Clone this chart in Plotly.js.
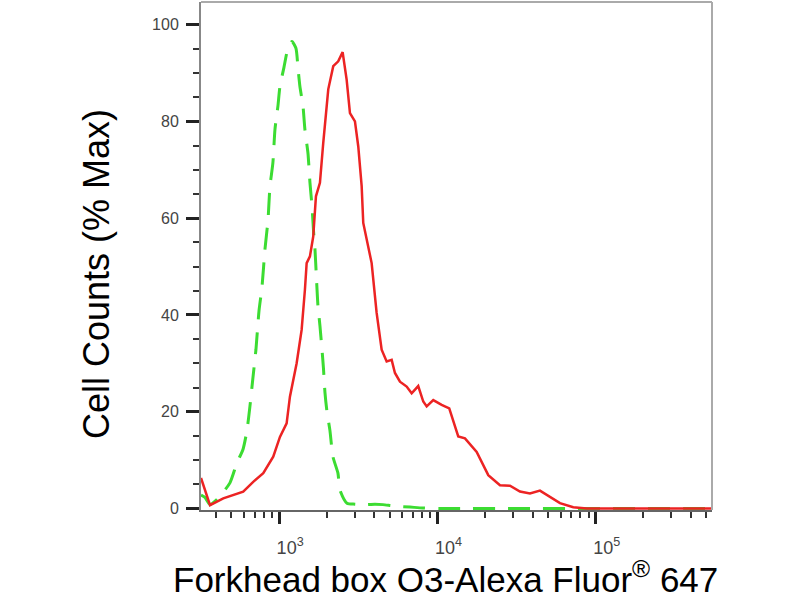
<!DOCTYPE html>
<html>
<head>
<meta charset="utf-8">
<script src="https://cdn.plot.ly/plotly-3.0.1.min.js"></script>
<style>
  html, body { margin: 0; padding: 0; background: #ffffff; }
  #chart { width: 800px; height: 600px; }
</style>
</head>
<body>
<div id="chart"></div>
<script>
// Red: Forkhead box O3 - Alexa Fluor 647 stained sample (fluorescence intensity, % of max)
const redX = [321, 366, 444, 593, 686, 794, 918, 1012, 1115, 1170, 1290, 1387, 1455, 1492, 1565, 1642, 1708, 1810, 1899, 2043, 2197, 2362, 2518, 2669, 2801, 3012, 3161, 3321, 3399, 3569, 3840, 4129, 4441, 4777, 5137, 5389, 5797, 6390, 6871, 7560, 8134, 8547, 9408, 10630, 11870, 13530, 14920, 17690, 20940, 24820, 28710, 33200, 38390, 44410, 48960, 59390, 72070, 87600, 106300, 542000];
const redY = [6.3, 0.7, 2.1, 3.5, 5.5, 7.3, 10.7, 14.8, 17.6, 23.1, 30.0, 36.9, 45.2, 50.7, 52.1, 56.2, 64.5, 67.3, 75.5, 86.6, 91.4, 92.4, 94.3, 88.6, 81.7, 80.0, 74.8, 66.6, 59.0, 55.5, 50.7, 40.4, 32.8, 30.4, 30.7, 28.0, 26.2, 25.2, 23.8, 25.3, 22.1, 21.1, 22.4, 21.4, 20.7, 14.9, 14.5, 11.7, 6.9, 4.8, 4.7, 3.5, 3.1, 3.7, 2.8, 1.1, 0.25, 0.0, 0.0, 0.0];

// Green dashed: isotype control
const greenX = [321, 340, 366, 411, 489, 541, 591, 626, 654, 683, 714, 746, 779, 814, 850, 875, 913, 941, 983, 1012, 1072, 1137, 1205, 1277, 1315, 1353, 1414, 1455, 1521, 1565, 1612, 1647, 1684, 1720, 1759, 1810, 1864, 1905, 1947, 2004, 2094, 2187, 2352, 2422, 2682, 3012, 3586, 4030, 4526, 5389, 6705, 8097, 10370, 13870, 542000];
const greenY = [2.8, 2.3, 0.85, 2.1, 5.3, 9.4, 12.2, 16.1, 21.1, 27.0, 32.9, 40.8, 45.7, 53.6, 59.5, 66.5, 71.4, 78.3, 83.2, 87.2, 91.1, 95.1, 96.5, 95.1, 91.1, 87.2, 83.2, 78.3, 73.4, 67.4, 62.5, 57.6, 53.6, 47.7, 41.8, 37.8, 32.9, 29.0, 24.0, 20.1, 16.1, 10.7, 7.3, 3.8, 1.1, 0.9, 0.8, 0.9, 0.8, 0.5, 0.3, 0.1, 0.0, 0.0, 0.0];

// Axis ticks
const xMajorVals = [1000, 10000, 100000];
const xMajorText = ['10<sup>3</sup>', '10<sup>4</sup>', '10<sup>5</sup>'];
const xMinorVals = [400, 500, 600, 700, 800, 900,
                    2000, 3000, 4000, 5000, 6000, 7000, 8000, 9000,
                    20000, 30000, 40000, 50000, 60000, 70000, 80000, 90000,
                    200000, 300000, 400000, 500000];
const yMajorVals = [0, 20, 40, 60, 80, 100];

const xTitle = 'Forkhead box O3-Alexa Fluor<sup>®</sup> 647';
const yTitle = 'Cell Counts (% Max)';

const FONT = 'Liberation Sans, Arial, sans-serif';

const traces = [
  {
    x: greenX, y: greenY, type: 'scatter', mode: 'lines',
    line: { color: 'rgb(60,220,50)', width: 3, dash: '22px,13px', shape: 'spline', smoothing: 0.6 },
    hoverinfo: 'skip', showlegend: false
  },
  {
    x: redX, y: redY, type: 'scatter', mode: 'lines',
    line: { color: 'rgb(236,35,35)', width: 2.5 },
    hoverinfo: 'skip', showlegend: false
  }
];

const layout = {
  width: 800, height: 600,
  margin: { l: 201, r: 88, t: 2, b: 90 },
  paper_bgcolor: '#ffffff', plot_bgcolor: '#ffffff',
  font: { family: FONT, color: '#000' },
  showlegend: false,
  xaxis: {
    type: 'log',
    range: [Math.log10(321), Math.log10(542000)],
    tickmode: 'array', tickvals: xMajorVals, ticktext: xMajorText,
    ticks: 'outside', ticklen: 12, tickwidth: 3, tickcolor: '#222',
    ticklabelstandoff: 8, ticklabelshift: 11,
    tickfont: { size: 18, color: '#444', family: FONT },
    minor: { tickmode: 'array', tickvals: xMinorVals, ticks: 'outside', ticklen: 6, tickwidth: 2, tickcolor: '#333', showgrid: false },
    showline: true, linecolor: '#666', linewidth: 2, mirror: false,
    showgrid: false, zeroline: false
  },
  yaxis: {
    range: [-0.31, 104.65],
    tickmode: 'array', tickvals: yMajorVals,
    ticks: 'outside', ticklen: 13, tickwidth: 3, tickcolor: '#222',
    ticklabelstandoff: 4,
    tickfont: { size: 16, color: '#444', family: FONT },
    minor: { dtick: 5, tick0: 0, ticks: 'outside', ticklen: 6, tickwidth: 2, tickcolor: '#333', showgrid: false },
    showline: true, linecolor: '#888', linewidth: 2, mirror: false,
    showgrid: false, zeroline: false
  },
  annotations: [
    { text: xTitle, xref: 'paper', yref: 'paper', x: 0.4775, y: -0.131, xanchor: 'center', yanchor: 'middle',
      showarrow: false, font: { size: 35, color: '#000', family: FONT } },
    { text: yTitle, xref: 'paper', yref: 'paper', x: -0.2035, y: 0.4646, xanchor: 'center', yanchor: 'middle',
      textangle: -90, showarrow: false, font: { size: 36, color: '#000', family: FONT } }
  ],
  shapes: [
    { type: 'line', xref: 'paper', yref: 'paper', x0: 0, x1: 1, y0: 1, y1: 1, line: { color: '#aaa', width: 2 } },
    { type: 'line', xref: 'paper', yref: 'paper', x0: 1, x1: 1, y0: 0, y1: 1, line: { color: '#aaa', width: 2 } }
  ]
};

Plotly.newPlot('chart', traces, layout, { displayModeBar: false, staticPlot: true });
</script>
</body>
</html>
